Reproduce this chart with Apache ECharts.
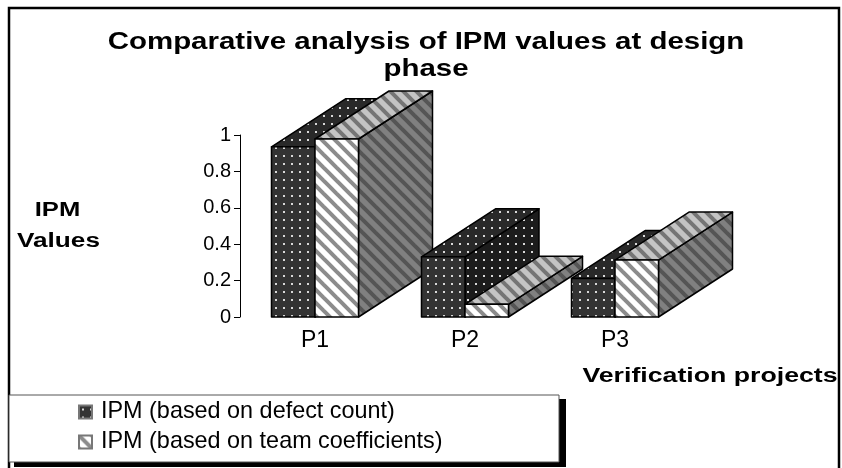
<!DOCTYPE html>
<html>
<head>
<meta charset="utf-8">
<style>
  html, body { margin: 0; padding: 0; background: #fff; }
  #chart { width: 842px; height: 468px; }
</style>
<script src="https://cdn.jsdelivr.net/npm/echarts@6/dist/echarts.min.js"></script>
</head>
<body>
<div id="chart"></div>
<script>
const categories = ["P1", "P2", "P3"];
const defectCount = [0.935, 0.331, 0.212];
const teamCoefficients = [0.978, 0.07, 0.313];
const yTickLabels = ["0", "0.2", "0.4", "0.6", "0.8", "1"];

const FONT = '"Liberation Sans", Arial, sans-serif';
// depth of the fake 3D boxes, in pixels
const DEPTH_X = 74;
const DEPTH_Y = 48;

function dotPattern(bg) {
  const c = document.createElement("canvas");
  c.width = 8;
  c.height = 8;
  const ctx = c.getContext("2d");
  ctx.fillStyle = bg;
  ctx.fillRect(0, 0, 8, 8);
  ctx.fillStyle = "#d8d8d8";
  ctx.fillRect(3, 3, 2, 2);
  return { image: c, repeat: "repeat" };
}

function stripePattern(bg, fg) {
  const size = 13;
  const c = document.createElement("canvas");
  c.width = size;
  c.height = size;
  const ctx = c.getContext("2d");
  ctx.fillStyle = bg;
  ctx.fillRect(0, 0, size, size);
  ctx.strokeStyle = fg;
  ctx.lineWidth = 4;
  for (let i = -size; i <= size; i += size) {
    ctx.beginPath();
    ctx.moveTo(i - 2, -2);
    ctx.lineTo(i + size + 2, size + 2);
    ctx.stroke();
  }
  return { image: c, repeat: "repeat" };
}

const darkFaces = {
  front: dotPattern("#333333"),
  top: dotPattern("#292929"),
  side: dotPattern("#1c1c1c")
};
const teamFaces = {
  front: stripePattern("#ffffff", "#8c8c8c"),
  top: stripePattern("#c4c4c4", "#757575"),
  side: stripePattern("#808080", "#555555")
};

// one box per category, offset left or right of the category centre
function boxSeries(name, values, faces, seriesIndex) {
  return {
    name: name,
    type: "custom",
    data: values,
    itemStyle: { color: faces.front, borderColor: "#777", borderWidth: 1 },
    renderItem: function (params, api) {
      const idx = params.dataIndex;
      const base = api.coord([idx, 0]);
      const top = api.coord([idx, api.value(1)]);
      const barW = api.size([1, 0])[0] * 0.29;
      const x0 = base[0] + (seriesIndex === 0 ? -barW : 0);
      const x1 = x0 + barW;
      const y0 = base[1];
      const y1 = top[1];
      // later categories sit in front of earlier ones
      const z2 = idx * 2 + seriesIndex;
      const line = { stroke: "#000", lineWidth: 1.5, lineJoin: "round" };
      const face = function (points, fill) {
        return {
          type: "polygon",
          z2: z2,
          shape: { points: points },
          style: Object.assign({ fill: fill }, line)
        };
      };
      return {
        type: "group",
        children: [
          face([[x1, y0], [x1 + DEPTH_X, y0 - DEPTH_Y], [x1 + DEPTH_X, y1 - DEPTH_Y], [x1, y1]], faces.side),
          face([[x0, y1], [x1, y1], [x1 + DEPTH_X, y1 - DEPTH_Y], [x0 + DEPTH_X, y1 - DEPTH_Y]], faces.top),
          face([[x0, y0], [x1, y0], [x1, y1], [x0, y1]], faces.front)
        ]
      };
    },
    encode: { x: 0, y: 1 }
  };
}

// the reference text is stretched sideways, so these are scaled graphic texts
function wideText(text, x, y, size, scaleX, lineHeight) {
  return {
    type: "text",
    x: x,
    y: y,
    scaleX: scaleX,
    z: 5,
    silent: true,
    style: {
      text: text,
      fontFamily: "Liberation Sans",
      fontWeight: "bold",
      fontSize: size,
      lineHeight: lineHeight,
      fill: "#000",
      textAlign: "center",
      textVerticalAlign: "middle"
    }
  };
}

const chart = echarts.init(document.getElementById("chart"), null, { renderer: "canvas" });

chart.setOption({
  animation: false,
  backgroundColor: "#fff",
  grid: { left: 240, top: 135, width: 450, height: 182, containLabel: false },
  xAxis: {
    type: "category",
    data: categories,
    axisLine: { show: false },
    axisTick: { show: false },
    axisLabel: { fontFamily: FONT, fontSize: 23, color: "#000", margin: 12 }
  },
  yAxis: {
    type: "value",
    min: 0,
    max: 1,
    interval: 0.2,
    splitLine: { show: false },
    axisLine: { show: true, lineStyle: { color: "#000", width: 1 } },
    axisTick: { show: true, length: 6, lineStyle: { color: "#000", width: 1 } },
    axisLabel: {
      fontFamily: FONT, fontSize: 20, color: "#000", margin: 9,
      formatter: function (v, i) { return yTickLabels[i]; }
    }
  },
  legend: {
    orient: "vertical",
    left: 78,
    top: 400,
    padding: 0,
    itemGap: 6,
    itemWidth: 13,
    itemHeight: 13,
    textStyle: { fontFamily: FONT, fontSize: 23.4, lineHeight: 24, color: "#000", padding: [0, 0, 0, 4] },
    data: [
      { name: "IPM (based on defect count)", icon: "rect" },
      { name: "IPM (based on team coefficients)", icon: "rect" }
    ]
  },
  graphic: [
    { type: "rect", silent: true, z: 0, shape: { x: 9, y: 8, width: 830, height: 480 },
      style: { fill: "#fff", stroke: "#000", lineWidth: 2.5 } },
    { type: "rect", silent: true, z: 1, shape: { x: 14, y: 399, width: 552, height: 68 },
      style: { fill: "#000" } },
    { type: "rect", silent: true, z: 1, shape: { x: 9, y: 395, width: 550, height: 67 },
      style: { fill: "#fff", stroke: "#555", lineWidth: 1 } },
    wideText("Comparative analysis of IPM values at design\nphase", 426, 55.5, 24, 1.227, 27),
    wideText("IPM", 57.5, 210.5, 20, 1.28),
    wideText("Values", 58.5, 241, 20, 1.31),
    wideText("Verification projects", 710, 376.5, 20, 1.335)
  ],
  series: [
    boxSeries("IPM (based on defect count)", defectCount, darkFaces, 0),
    boxSeries("IPM (based on team coefficients)", teamCoefficients, teamFaces, 1)
  ]
});
</script>
</body>
</html>
